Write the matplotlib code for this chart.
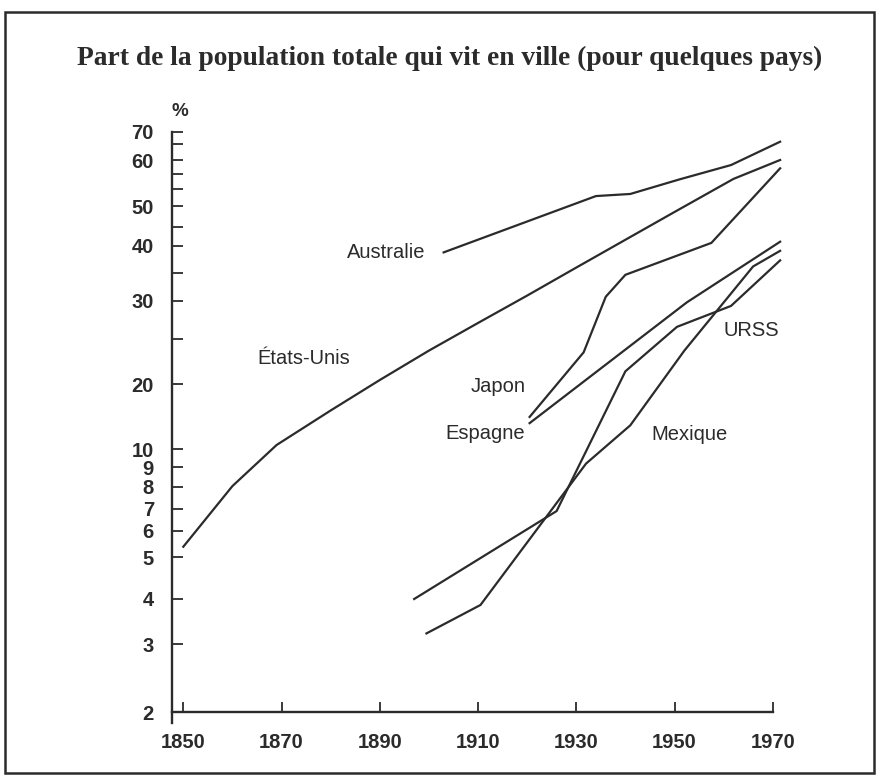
import numpy as np
import matplotlib
matplotlib.use('Agg')
import matplotlib.pyplot as plt
from matplotlib.patches import Rectangle
from matplotlib.ticker import NullFormatter

# share of population living in towns (%)
us_years = [1850, 1860, 1869, 1880, 1890, 1900, 1910, 1920, 1930, 1940, 1950, 1962, 1971.5]
us_pct = [5.38, 8.03, 10.47, 15.1, 20.4, 23.6, 27.0, 30.9, 35.9, 41.5, 48.5, 56.0, 60.0]

aus_years = [1903, 1934, 1941, 1951, 1961.5, 1971.5]
aus_pct = [38.7, 52.3, 52.8, 55.9, 58.9, 65.9]

jap_years = [1920.5, 1931.5, 1936, 1940, 1957.5, 1971.5]
jap_pct = [14.1, 23.4, 30.7, 34.6, 40.7, 58.2]

esp_years = [1920.5, 1952.5, 1971.5]
esp_pct = [13.2, 29.8, 41.0]

urss_years = [1897, 1926, 1940, 1950.5, 1961.5, 1971.5]
urss_pct = [4.0, 6.9, 21.3, 26.5, 29.3, 37.2]

mex_years = [1899.5, 1910.5, 1932, 1941, 1952, 1966, 1971.5]
mex_pct = [3.21, 3.85, 9.2, 12.9, 23.6, 36.1, 39.0]

# the printed axis is only roughly logarithmic: calibrate it on its ticks
axis_vals = [1, 2, 3, 4, 5, 6, 7, 8, 9, 10, 20, 25, 30, 35, 40, 45, 50, 54, 57, 60, 65, 70, 100]
axis_pos = [829.1, 712.3, 644, 599, 557.3, 531, 509, 486.7, 467.3, 449.3, 384, 339, 301,
            272.7, 245.7, 226.7, 206, 189, 174, 160, 144, 131.7, 66.2]
major_ticks = [2, 3, 4, 5, 6, 7, 8, 9, 10, 20, 30, 40, 50, 60, 70]
minor_ticks = [25, 35, 45, 54, 57, 65]

lv = np.log10(axis_vals)
neg_pos = -np.array(axis_pos)


def fwd(v):
    v = np.clip(np.asarray(v, dtype=float), 1e-6, None)
    return np.interp(np.log10(v), lv, neg_pos)


def inv(y):
    return 10 ** np.interp(np.asarray(y, dtype=float), neg_pos, lv)


ink = '#2b2b2b'
plt.rcParams['font.family'] = ['Liberation Sans', 'DejaVu Sans']

fig = plt.figure(figsize=(8.85, 7.84), dpi=100)
fig.patch.set_facecolor('white')
ax = fig.add_axes([172 / 885, 1 - 723 / 784, (787.5 - 172) / 885, (723 - 125) / 784])
ax.set_yscale('function', functions=(fwd, inv))
ax.set_xlim(1847.7, 1973)
ax.set_ylim(float(inv(-723)), float(inv(-125)))

for yrs, pct in [(us_years, us_pct), (aus_years, aus_pct), (jap_years, jap_pct),
                 (esp_years, esp_pct), (urss_years, urss_pct), (mex_years, mex_pct)]:
    ax.plot(yrs, pct, color=ink, lw=1.6, solid_joinstyle='miter')

# spines
ax.spines['top'].set_visible(False)
ax.spines['right'].set_visible(False)
ax.spines['left'].set_bounds(float(inv(-723)), 70)
ax.spines['bottom'].set_position(('data', 2))
ax.spines['bottom'].set_bounds(1847.7, 1970)
for s in ('left', 'bottom'):
    ax.spines[s].set_linewidth(1.7)
    ax.spines[s].set_color(ink)

ax.set_xticks(range(1850, 1971, 20))
ax.set_xticklabels([str(y) for y in range(1850, 1971, 20)], fontweight='bold', fontsize=14.5, color=ink)
ax.set_yticks(major_ticks)
ax.set_yticklabels([str(v) for v in major_ticks], fontweight='bold', fontsize=14.5, color=ink)
ax.set_yticks(minor_ticks, minor=True)
ax.yaxis.set_minor_formatter(NullFormatter())
ax.tick_params(axis='x', direction='in', length=7.5, width=1.3, pad=15, color=ink)
ax.tick_params(axis='y', which='both', direction='in', length=8, width=1.3, pad=13, color=ink)

# country names
lab = dict(fontsize=14.5, color=ink, ha='center', va='center')
ax.text(1891.4, 38.7, 'Australie', **lab)
ax.text(1874.6, 22.7, 'États-Unis', **lab)
ax.text(1914.1, 19.4, 'Japon', **lab)
ax.text(1911.4, 11.85, 'Espagne', **lab)
ax.text(1953.0, 11.76, 'Mexique', **lab)
ax.text(1965.7, 26.1, 'URSS', **lab)

fig.text(180 / 885, 1 - 112 / 784, '%', fontsize=13.5, fontweight='bold', color=ink, ha='center', va='center')
fig.text(450 / 885, 1 - 58 / 784, 'Part de la population totale qui vit en ville (pour quelques pays)',
         family='Liberation Serif', fontweight='bold', fontsize=19.8, color=ink, ha='center', va='center')

fig.add_artist(Rectangle((5 / 885, 1 - 773 / 784), 869 / 885, 761 / 784, transform=fig.transFigure,
                         fill=False, lw=1.8, ec=ink))

fig.savefig('out.png', dpi=100)
